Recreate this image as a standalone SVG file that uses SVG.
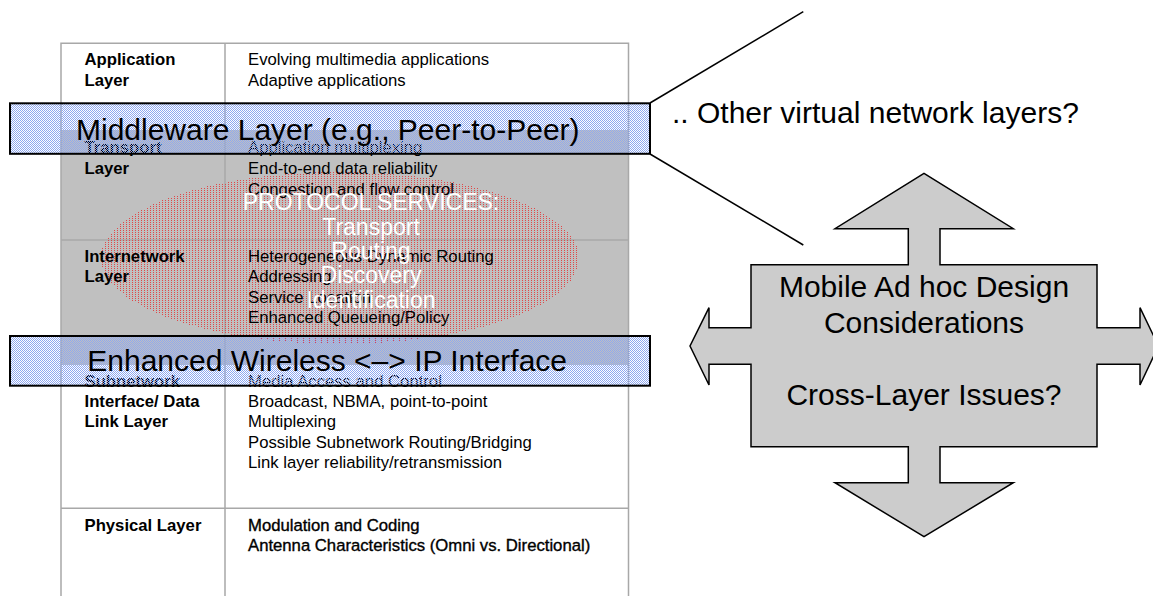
<svg xmlns="http://www.w3.org/2000/svg" width="1153" height="596" viewBox="0 0 1153 596">
<defs>
<pattern id="blueDots" width="2" height="2" patternUnits="userSpaceOnUse"><rect x="0" y="0" width="1" height="1" fill="#8ea8f0" shape-rendering="crispEdges"/><rect x="1" y="1" width="1" height="1" fill="#8ea8f0" shape-rendering="crispEdges"/></pattern>
<pattern id="redDots" width="3" height="2" patternUnits="userSpaceOnUse"><rect x="0" y="0" width="1" height="1" fill="#e04848" shape-rendering="crispEdges"/></pattern>
</defs>
<style>
.cell{font-family:"Liberation Sans",Arial,sans-serif;font-size:16.7px;fill:#000}
.b{font-weight:bold}
.grid{stroke:#a8a8a8;stroke-width:1.5;fill:none}
.band{fill:url(#blueDots);stroke:#000;stroke-width:2}
.big{font-family:"Liberation Sans",Arial,sans-serif;font-size:30px;fill:#000}
.ps{font-family:"Liberation Sans",Arial,sans-serif;font-size:23px;fill:#fff;text-anchor:middle}
.conn{stroke:#000;stroke-width:1.5;fill:none}
</style>
<rect width="1153" height="596" fill="#fff"/>
<g id="layer-table">
<rect x="61" y="130" width="567.5" height="235" fill="#c0c0c0"/>
<path class="grid" d="M61 600V43.3H628.5V600M225 43.3V600M61 240H628.5M61 508.3H628.5"/>
</g>
<g id="protocol-ellipse">
<ellipse cx="340" cy="258" rx="239" ry="86" fill="url(#redDots)" shape-rendering="crispEdges"/>
</g>
<g id="layer-table-text">
<text class="cell b" x="84.5" y="65">Application</text>
<text class="cell b" x="84.5" y="86">Layer</text>
<text class="cell" x="248" y="65">Evolving multimedia applications</text>
<text class="cell" x="248" y="86">Adaptive applications</text>
<text class="cell b" x="84.5" y="153">Transport</text>
<text class="cell b" x="84.5" y="174">Layer</text>
<text class="cell" x="248" y="153">Application multiplexing</text>
<text class="cell" x="248" y="174">End-to-end data reliability</text>
<text class="cell" x="248" y="195">Congestion and flow control</text>
<text class="cell b" x="84.5" y="262">Internetwork</text>
<text class="cell b" x="84.5" y="282">Layer</text>
<text class="cell" x="248" y="262">Heterogeneous Dynamic Routing</text>
<text class="cell" x="248" y="282">Addressing</text>
<text class="cell" x="248" y="303">Service Location</text>
<text class="cell" x="248" y="323">Enhanced Queueing/Policy</text>
<text class="cell b" x="84.5" y="386.5">Subnetwork</text>
<text class="cell b" x="84.5" y="407">Interface/ Data</text>
<text class="cell b" x="84.5" y="427">Link Layer</text>
<text class="cell" x="248" y="386.5">Media Access and Control</text>
<text class="cell" x="248" y="407">Broadcast, NBMA, point-to-point</text>
<text class="cell" x="248" y="427">Multiplexing</text>
<text class="cell" x="248" y="447.5">Possible Subnetwork Routing/Bridging</text>
<text class="cell" x="248" y="468">Link layer reliability/retransmission</text>
<text class="cell b" x="84.5" y="531">Physical Layer</text>
<text class="cell" x="248" y="531" stroke="#000" stroke-width="0.35">Modulation and Coding</text>
<text class="cell" x="248" y="551" stroke="#000" stroke-width="0.35">Antenna Characteristics (Omni vs. Directional)</text>
</g>
<g id="protocol-services">
<text class="ps" x="371" y="210">PROTOCOL SERVICES:</text>
<text class="ps" x="371" y="234.5">Transport</text>
<text class="ps" x="371" y="258.5">Routing</text>
<text class="ps" x="371" y="283">Discovery</text>
<text class="ps" x="371" y="307.5">Identification</text>
</g>
<g id="middleware-band">
<rect class="band" x="10" y="103.3" width="640" height="50.5"/>
<text class="big" x="76" y="140">Middleware Layer (e.g., Peer-to-Peer)</text>
</g>
<g id="enhanced-band">
<rect class="band" x="10" y="336" width="640" height="49.7"/>
<text class="big" x="87.3" y="370.7">Enhanced Wireless &lt;–&gt; IP Interface</text>
</g>
<g id="connectors">
<line class="conn" x1="650" y1="103" x2="803.3" y2="11.7"/>
<line class="conn" x1="650" y1="154" x2="803.3" y2="245"/>
</g>
<g id="other-layers">
<text class="big" x="672" y="122.7">.. Other virtual network layers?</text>
</g>
<g id="mobile-design">
<path d="M751 264.7H908.3V228.7H835L924 173.3L1013.3 228.7H940V264.7H1097V327.7H1140V307.7L1158.5 346L1140 385V364.3H1097V446.7H940V482.7H1013.3L924 536.7L835 482.7H908.3V446.7H751V364.3H709V385L690 346L709 307.7V327.7H751Z" fill="#cccccc" stroke="#000" stroke-width="1.5" stroke-linejoin="miter"/>
<text class="big" x="924" y="296.7" text-anchor="middle">Mobile Ad hoc Design</text>
<text class="big" x="924" y="332.7" text-anchor="middle">Considerations</text>
<text class="big" x="924" y="404.7" text-anchor="middle">Cross-Layer Issues?</text>
</g>
</svg>
